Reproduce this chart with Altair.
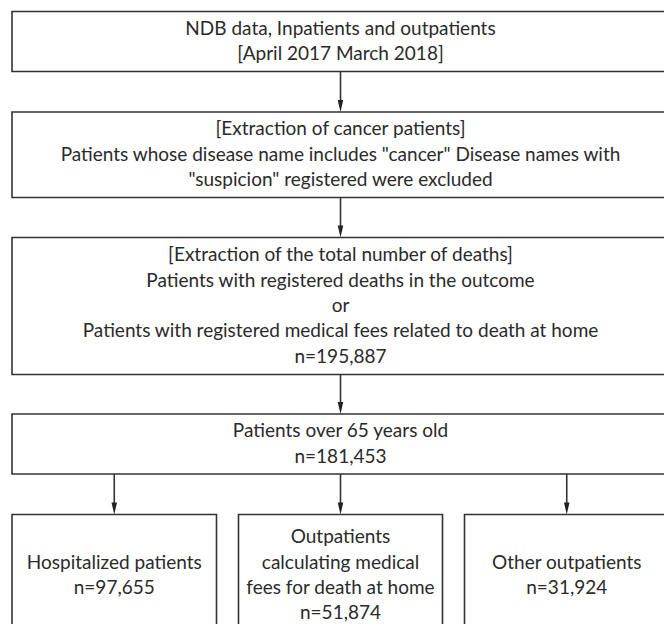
import altair as alt
import pandas as pd

# ---- content ----
box_texts = [
    "NDB data, Inpatients and outpatients\n[April 2017 March 2018]",
    "[Extraction of cancer patients]\nPatients whose disease name includes \"cancer\" Disease names with\n\"suspicion\" registered were excluded",
    "[Extraction of the total number of deaths]\nPatients with registered deaths in the outcome\nor\nPatients with registered medical fees related to death at home",
    "Patients over 65 years old",
    "Hospitalized patients",
    "Outpatients\ncalculating medical\nfees for death at home",
    "Other outpatients",
]
box_counts = [None, None, 195887, 181453, 97655, 51874, 31924]
edges_from = [0, 1, 2, 3, 3, 3]
edges_to = [1, 2, 3, 4, 5, 6]

# ---- layout (page pixel coordinates) ----
box_x0 = [12, 12, 12, 12, 12, 238.5, 464.5]
box_x1 = [669, 669, 669, 669, 216.5, 442.5, 669]
box_y0 = [11.5, 112, 237.5, 414, 514.5, 514.5, 514.5]
box_y1 = [71.5, 197.5, 374.5, 474, 636, 636, 636]

FONT = "Lato"
FS = 19
LH = 25.3
LINE = "#333333"
TXT = "#2a2a2a"

labels = []
for t, n in zip(box_texts, box_counts):
    labels.append(t + (f"\nn={n:,}" if n is not None else ""))

boxes = pd.DataFrame({
    "x0": box_x0, "x1": box_x1, "y0": box_y0, "y1": box_y1, "label": labels,
})
boxes["cx"] = (boxes.x0 + boxes.x1) / 2
nlines = boxes["label"].str.count("\n")
boxes["ty"] = (boxes.y0 + boxes.y1) / 2 - nlines * LH / 2

arrows = pd.DataFrame({
    "x": [boxes.cx[t] for t in edges_to],
    "ys": [boxes.y1[f] for f in edges_from],
    "ye": [boxes.y0[t] - 10 for t in edges_to],
    "yh": [boxes.y0[t] - 6 for t in edges_to],
})

xs = alt.Scale(domain=[8, 664], nice=False, zero=False)
ys = alt.Scale(domain=[8, 624], nice=False, zero=False, reverse=True)

rects = alt.Chart(boxes).mark_rect(
    fill="white", stroke=LINE, strokeWidth=1.6, clip=True
).encode(
    x=alt.X("x0:Q", scale=xs, axis=None),
    x2="x1:Q",
    y=alt.Y("y0:Q", scale=ys, axis=None),
    y2="y1:Q",
)

texts = alt.Chart(boxes).mark_text(
    font=FONT, fontSize=FS, lineHeight=LH, lineBreak="\n",
    align="center", baseline="middle", color=TXT,
).encode(
    x=alt.X("cx:Q", scale=xs, axis=None),
    y=alt.Y("ty:Q", scale=ys, axis=None),
    text="label:N",
)

shafts = alt.Chart(arrows).mark_rule(color=LINE, strokeWidth=1.6).encode(
    x=alt.X("x:Q", scale=xs, axis=None),
    y=alt.Y("ys:Q", scale=ys, axis=None),
    y2="ye:Q",
)

heads = alt.Chart(arrows).mark_point(
    shape="M -0.46 -1 L 0.46 -1 L 0 1 Z", filled=True, size=144,
    color="#222222", opacity=1, strokeWidth=0,
).encode(
    x=alt.X("x:Q", scale=xs, axis=None),
    y=alt.Y("yh:Q", scale=ys, axis=None),
)

chart = alt.layer(rects, shafts, heads, texts).properties(
    width=656, height=616, padding=0,
    autosize=alt.AutoSizeParams(type="none"),
).configure_view(stroke=None)

chart.save("out.html", embed_options={"renderer": "svg", "actions": False})
